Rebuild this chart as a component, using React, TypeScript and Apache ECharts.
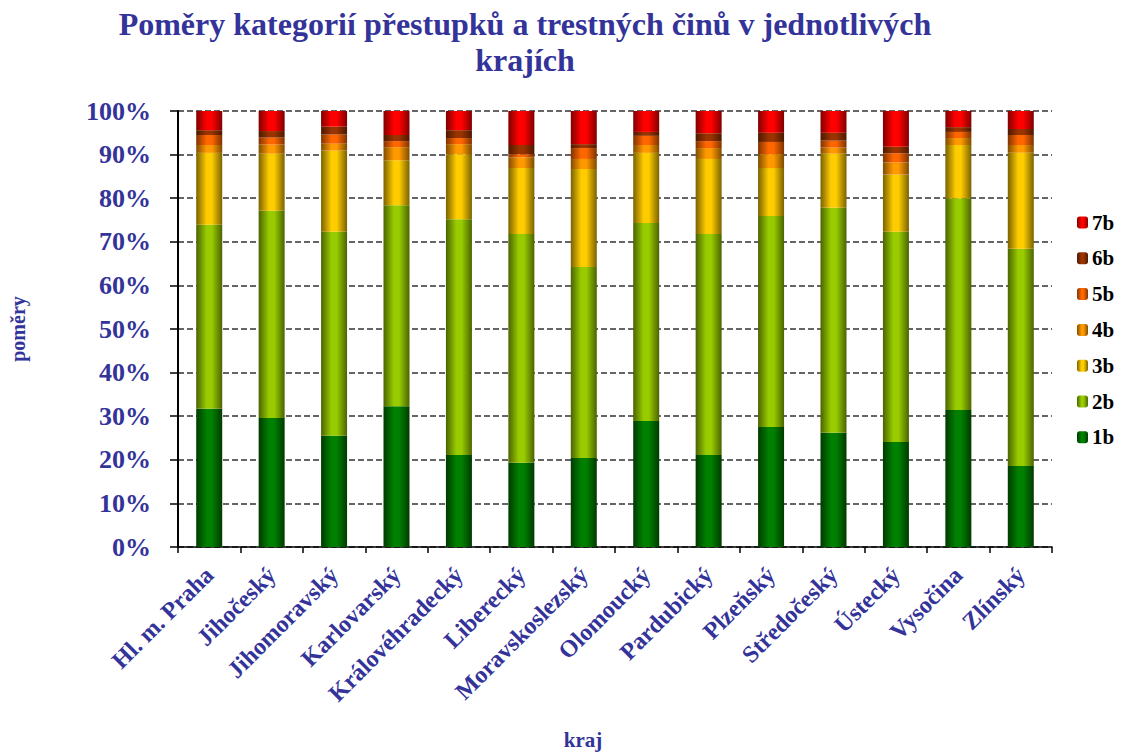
import React, { useEffect, useRef } from "react";
import * as echarts from "echarts";

const categories = [
  "Hl. m. Praha", "Jihočeský", "Jihomoravský", "Karlovarský", "Královéhradecký",
  "Liberecký", "Moravskoslezský", "Olomoucký", "Pardubický", "Plzeňský",
  "Středočeský", "Ústecký", "Vysočina", "Zlínský",
];

const s1b = [31.7, 29.6, 25.5, 32.3, 21.1, 19.3, 20.4, 28.9, 21.1, 27.5, 26.2, 24.1, 31.4, 18.6];
const s2b = [42.2, 47.5, 46.8, 46.1, 54.1, 52.5, 43.8, 45.4, 50.7, 48.4, 51.6, 48.2, 48.6, 49.8];
const s3b = [16.5, 13.1, 18.6, 10.3, 14.9, 15.1, 22.5, 16.1, 17.2, 11.0, 12.4, 13.1, 12.2, 22.0];
const s4b = [1.8, 2.1, 1.6, 3.0, 2.3, 2.5, 2.3, 1.8, 2.5, 3.2, 1.4, 2.8, 1.6, 1.8];
const s5b = [2.3, 1.6, 2.1, 1.4, 1.4, 0.7, 2.5, 2.1, 1.6, 2.8, 1.6, 2.1, 1.4, 2.3];
const s6b = [1.1, 1.5, 1.8, 1.4, 1.8, 2.1, 0.9, 0.9, 1.8, 2.1, 1.8, 1.5, 1.1, 1.4];
const s7b = [4.4, 4.6, 3.6, 5.5, 4.4, 7.8, 7.6, 4.8, 5.1, 5.0, 5.0, 8.2, 3.7, 4.1];

const seriesNames = ["1b", "2b", "3b", "4b", "5b", "6b", "7b"];
const seriesData = [s1b, s2b, s3b, s4b, s5b, s6b, s7b];
const seriesColors: [string, string][] = [
  ["#003a00", "#008000"],
  ["#4a6400", "#99cc00"],
  ["#7a6200", "#ffcc00"],
  ["#7f4c00", "#ff9900"],
  ["#7f3300", "#ff6600"],
  ["#4c1900", "#993300"],
  ["#800000", "#ff0000"],
];

const yTicks = { min: 0, max: 100, interval: 10 };

const BLUE = "#333399";
const SERIF = "'Liberation Serif', 'Times New Roman', serif";

function grad(edge: string, center: string) {
  return {
    type: "linear",
    x: 0, y: 0, x2: 1, y2: 0,
    colorStops: [
      { offset: 0, color: edge },
      { offset: 0.4, color: center },
      { offset: 0.6, color: center },
      { offset: 1, color: edge },
    ],
  };
}

export default function App() {
  const ref = useRef<HTMLDivElement>(null);
  useEffect(() => {
    if (!ref.current) return;
    const chart = echarts.init(ref.current, undefined, { renderer: "svg" });
    chart.setOption({
      animation: false,
      backgroundColor: "#ffffff",
      grid: { left: 175, right: 70, top: 111, bottom: 206 },
      graphic: [
        {
          type: "text",
          x: 525,
          y: 6,
          style: {
            text: "Poměry kategorií přestupků a trestných činů v jednotlivých\nkrajích",
            textAlign: "center",
            fill: BLUE,
            fontFamily: SERIF,
            fontWeight: "bold",
            fontSize: 32,
            lineHeight: 36,
          },
        },
        {
          type: "text",
          x: 583,
          y: 729,
          style: {
            text: "kraj",
            textAlign: "center",
            fill: BLUE,
            fontFamily: SERIF,
            fontWeight: "bold",
            fontSize: 21,
          },
        },
      ],
      legend: {
        orient: "vertical",
        left: 1077,
        top: 212,
        data: [...seriesNames].reverse(),
        itemWidth: 11,
        itemHeight: 12,
        itemGap: 14.8,
        padding: 0,
        textStyle: {
          fontFamily: SERIF,
          fontWeight: "bold",
          fontSize: 21,
          color: "#000",
          padding: [0, 0, 0, -1],
        },
      },
      xAxis: {
        type: "category",
        data: categories,
        axisLine: { lineStyle: { color: "#000", width: 1.5 } },
        axisTick: { show: true, length: 6, lineStyle: { color: "#000", width: 1.5 } },
        axisLabel: {
          rotate: 45,
          interval: 0,
          margin: 24,
          color: BLUE,
          fontFamily: SERIF,
          fontWeight: "bold",
          fontSize: 24,
        },
      },
      yAxis: {
        type: "value",
        min: yTicks.min,
        max: yTicks.max,
        interval: yTicks.interval,
        name: "poměry",
        nameLocation: "middle",
        nameRotate: 90,
        nameGap: 150,
        nameTextStyle: {
          color: BLUE,
          fontFamily: SERIF,
          fontWeight: "bold",
          fontSize: 20,
        },
        axisLine: { show: true, lineStyle: { color: "#000", width: 2 } },
        axisTick: { show: true, length: 8, lineStyle: { color: "#000", width: 1.5 } },
        axisLabel: {
          formatter: "{value}%",
          margin: 27,
          color: BLUE,
          fontFamily: SERIF,
          fontWeight: "bold",
          fontSize: 26,
        },
        splitLine: {
          show: true,
          lineStyle: { color: "#333", width: 1.5, type: [6, 3] },
        },
      },
      series: seriesNames.map((name, i) => ({
        name,
        type: "bar",
        stack: "total",
        barWidth: 26,
        data: seriesData[i],
        itemStyle: { color: grad(seriesColors[i][0], seriesColors[i][1]) },
      })),
    });
    return () => chart.dispose();
  }, []);
  return (
    <div
      ref={ref}
      style={{ position: "absolute", left: 0, top: 0, width: 1122, height: 753 }}
    />
  );
}
